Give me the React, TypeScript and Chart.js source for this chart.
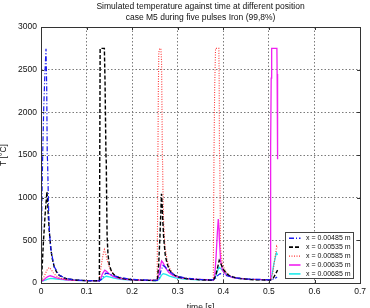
import { useEffect, useRef } from 'react';
import { Chart, registerables } from 'chart.js';

Chart.register(...registerables);

const titleLines = [
  'Simulated temperature against time at different position',
  'case M5 during five pulses Iron (99,8%)',
];
const xLabel = 'time [s]';
const yLabel = 'T [°C]';
const timeTicks = [0, 0.1, 0.2, 0.3, 0.4, 0.5, 0.6, 0.7];
const tempTicks = [0, 500, 1000, 1500, 2000, 2500, 3000];

const seriesNames = ['x = 0.00485 m', 'x = 0.00535 m', 'x = 0.00585 m', 'x = 0.00635 m', 'x = 0.00685 m'];

// x = 0.00485 m
const time485 = [
  0, 0.001, 0.002, 0.0037, 0.006, 0.0085, 0.011, 0.0125, 0.0137, 0.0145, 0.0155, 0.017, 0.019, 0.022, 0.029, 0.04, 0.054, 0.07, 0.1, 0.128,
  0.132, 0.137, 0.142, 0.147, 0.155, 0.165, 0.175, 0.19, 0.21, 0.235, 0.255,
  0.259, 0.263, 0.2675, 0.272, 0.279, 0.288, 0.3, 0.32, 0.35, 0.378,
  0.383, 0.388, 0.393, 0.4, 0.41, 0.425, 0.45, 0.48, 0.503,
  0.51, 0.515, 0.518,
];
const temp485 = [
  20, 500, 950, 1500, 2050, 2450, 2745, 2300, 1500, 1420, 1150, 800, 560, 380, 190, 92, 55, 38, 28, 26,
  40, 80, 115, 110, 95, 78, 65, 50, 40, 34, 31,
  60, 140, 205, 190, 150, 110, 78, 55, 42, 36,
  55, 90, 110, 100, 82, 62, 48, 42, 37,
  45, 60, 72,
];

// x = 0.00535 m
const time535 = [
  0, 0.001, 0.005, 0.009, 0.013, 0.0145, 0.016, 0.018, 0.0217, 0.025, 0.029, 0.034, 0.04, 0.054, 0.075, 0.1, 0.128,
  0.1285, 0.129, 0.1295, 0.1297, 0.139, 0.1405, 0.1425, 0.1432, 0.144, 0.145, 0.147, 0.15, 0.155, 0.162, 0.175, 0.2, 0.23, 0.255,
  0.258, 0.261, 0.2643, 0.2655, 0.267, 0.269, 0.2725, 0.2765, 0.282, 0.287, 0.295, 0.302, 0.32, 0.35, 0.378,
  0.383, 0.387, 0.391, 0.395, 0.4, 0.407, 0.415, 0.43, 0.46, 0.503,
  0.51, 0.515, 0.519,
];
const temp535 = [
  20, 30, 450, 800, 1068, 950, 790, 618, 390, 280, 190, 130, 90, 52, 35, 28, 25,
  800, 1600, 2400, 2750, 2750, 2350, 1500, 1420, 1000, 550, 330, 210, 130, 85, 55, 38, 31, 29,
  200, 550, 1045, 950, 750, 540, 330, 230, 150, 114, 85, 70, 50, 38, 32,
  80, 170, 266, 220, 160, 110, 80, 55, 40, 33,
  60, 110, 150,
];

// x = 0.00585 m
const time585 = [
  0, 0.004, 0.008, 0.013, 0.018, 0.022, 0.027, 0.033, 0.04, 0.05, 0.07, 0.1, 0.128,
  0.129, 0.132, 0.136, 0.139, 0.142, 0.146, 0.151, 0.158, 0.167, 0.18, 0.2, 0.23, 0.2548,
  0.2555, 0.2565, 0.2575, 0.2584, 0.2605, 0.263, 0.2645, 0.2655, 0.2662, 0.2668, 0.2675, 0.269, 0.272, 0.277, 0.283, 0.29, 0.3, 0.32, 0.35, 0.378,
  0.3785, 0.3795, 0.381, 0.3829, 0.3902, 0.3908, 0.3915, 0.3922, 0.393, 0.394, 0.398, 0.405, 0.415, 0.43, 0.46, 0.503,
  0.508, 0.512, 0.517, 0.519,
];
const temp585 = [
  20, 40, 90, 150, 181, 160, 120, 85, 60, 45, 33, 27, 25,
  80, 200, 330, 392, 340, 250, 170, 110, 75, 52, 40, 33, 30,
  600, 1500, 2300, 2700, 2750, 2740, 2600, 2000, 1500, 1400, 1100, 700, 420, 260, 160, 110, 75, 50, 38, 33,
  600, 1500, 2300, 2750, 2750, 2400, 1500, 1420, 900, 400, 220, 130, 85, 60, 42, 35,
  100, 250, 430, 410,
];

// x = 0.00635 m
const time635 = [
  0, 0.005, 0.01, 0.015, 0.02, 0.025, 0.032, 0.04, 0.055, 0.075, 0.1, 0.128,
  0.131, 0.135, 0.14, 0.144, 0.15, 0.158, 0.17, 0.19, 0.22, 0.255,
  0.258, 0.261, 0.2645, 0.268, 0.273, 0.28, 0.29, 0.305, 0.33, 0.378,
  0.381, 0.384, 0.387, 0.3889, 0.3905, 0.391, 0.394, 0.398, 0.407, 0.421, 0.45, 0.503,
  0.5035, 0.504, 0.505, 0.506, 0.5175, 0.518, 0.5185, 0.519, 0.5195,
];
const temp635 = [
  20, 30, 55, 75, 85, 78, 62, 50, 38, 30, 27, 25,
  50, 110, 150, 135, 105, 78, 55, 40, 32, 30,
  80, 170, 258, 235, 180, 125, 85, 60, 45, 35,
  80, 300, 600, 750, 640, 540, 266, 150, 90, 63, 45, 36,
  800, 1600, 2400, 2750, 2750, 2450, 1700, 1550, 1450,
];

// x = 0.00685 m
const time685 = [
  0, 0.008, 0.015, 0.022, 0.03, 0.04, 0.06, 0.09, 0.128,
  0.133, 0.138, 0.143, 0.15, 0.16, 0.175, 0.2, 0.255,
  0.26, 0.264, 0.268, 0.274, 0.282, 0.295, 0.315, 0.345, 0.378,
  0.382, 0.387, 0.391, 0.396, 0.403, 0.412, 0.425, 0.445, 0.475, 0.503,
  0.507, 0.511, 0.5165, 0.519,
];
const temp685 = [
  20, 30, 45, 55, 50, 42, 33, 27, 25,
  40, 65, 79, 72, 57, 44, 34, 29,
  50, 90, 110, 100, 80, 60, 45, 37, 33,
  60, 140, 185, 160, 120, 85, 62, 48, 40, 36,
  100, 230, 355, 330,
];

const seriesTimes = [time485, time535, time585, time635, time685];
const seriesTemps = [temp485, temp535, temp585, temp635, temp685];
const seriesColors = ['#1818f0', '#000000', '#ff3535', '#f020f0', '#20eaea'];
const seriesDashes = [[5, 2, 1, 2], [4, 2], [1, 1.5], [], []];
const seriesWidths = [1.2, 1.4, 1.1, 1.3, 1.3];

const FONT = 'Liberation Sans, Arial, Helvetica, sans-serif';

const axesPlugin = {
  id: 'axesFrame',
  afterDatasetsDraw(chart: any) {
    const { ctx, chartArea } = chart;
    const { left, right, top, bottom } = chartArea;
    const xs = chart.scales.x;
    const ys = chart.scales.y;
    ctx.save();
    // box around the axes
    ctx.strokeStyle = '#333';
    ctx.lineWidth = 1;
    ctx.setLineDash([]);
    ctx.strokeRect(Math.round(left) + 0.5, Math.round(top) + 0.5, Math.round(right - left), Math.round(bottom - top));
    // inward tick marks on all four sides
    ctx.beginPath();
    timeTicks.forEach((v) => {
      const px = Math.round(xs.getPixelForValue(v)) + 0.5;
      ctx.moveTo(px, bottom);
      ctx.lineTo(px, bottom - 3);
      ctx.moveTo(px, top);
      ctx.lineTo(px, top + 3);
    });
    tempTicks.forEach((v) => {
      const py = Math.round(ys.getPixelForValue(v)) + 0.5;
      ctx.moveTo(left, py);
      ctx.lineTo(left + 3, py);
      ctx.moveTo(right, py);
      ctx.lineTo(right - 3, py);
    });
    ctx.stroke();

    // legend box in the lower right corner
    const boxW = 68;
    const boxH = 46;
    const bx = Math.round(right - 7 - boxW) + 0.5;
    const by = Math.round(bottom - 5 - boxH) + 0.5;
    ctx.fillStyle = '#fff';
    ctx.fillRect(bx, by, boxW, boxH);
    ctx.strokeStyle = '#444';
    ctx.strokeRect(bx, by, boxW, boxH);
    ctx.font = `7px ${FONT}`;
    ctx.textBaseline = 'middle';
    ctx.textAlign = 'left';
    seriesNames.forEach((name, i) => {
      const ry = by + 5.8 + i * 8.9;
      ctx.beginPath();
      ctx.strokeStyle = seriesColors[i];
      ctx.lineWidth = seriesWidths[i] + 0.3;
      ctx.setLineDash(seriesDashes[i]);
      ctx.moveTo(bx + 3.5, ry);
      ctx.lineTo(bx + 15, ry);
      ctx.stroke();
      ctx.setLineDash([]);
      ctx.fillStyle = '#111';
      ctx.fillText(name, bx + 20.5, ry);
    });
    ctx.restore();
  },
  afterDraw(chart: any) {
    const { ctx, chartArea } = chart;
    const cx = (chartArea.left + chartArea.right) / 2;
    ctx.save();
    ctx.fillStyle = '#111';
    ctx.font = `8.5px ${FONT}`;
    ctx.textAlign = 'center';
    ctx.textBaseline = 'middle';
    titleLines.forEach((line, i) => ctx.fillText(line, cx, 7 + i * 11));
    ctx.restore();
  },
};

export default function App() {
  const canvasRef = useRef<HTMLCanvasElement | null>(null);

  useEffect(() => {
    const canvas = canvasRef.current;
    if (!canvas) return;

    const datasets = seriesNames.map((name, i) => ({
      label: name,
      data: seriesTimes[i].map((t, k) => ({ x: t, y: seriesTemps[i][k] })),
      borderColor: seriesColors[i],
      backgroundColor: seriesColors[i],
      borderWidth: seriesWidths[i],
      borderDash: seriesDashes[i],
      pointRadius: 0,
      tension: 0,
      fill: false,
    }));

    const tickFont = { family: FONT, size: 8.5 };

    const chart = new Chart(canvas, {
      type: 'line',
      data: { datasets },
      options: {
        animation: false,
        responsive: false,
        devicePixelRatio: 1,
        events: [],
        layout: { padding: { top: 27, right: 7, left: 0, bottom: 0 } },
        plugins: {
          legend: { display: false },
          title: { display: false },
          tooltip: { enabled: false },
        },
        scales: {
          x: {
            type: 'linear',
            min: 0,
            max: 0.7,
            afterBuildTicks: (s: any) => {
              s.ticks = timeTicks.map((v) => ({ value: v }));
            },
            afterFit: (s: any) => {
              s.height = 25;
            },
            ticks: {
              font: tickFont,
              color: '#111',
              padding: 4,
              maxRotation: 0,
              autoSkip: false,
              callback: (v: any) => String(v),
            },
            grid: { color: '#7a7a7a', lineWidth: 1, drawTicks: false },
            border: { display: false, dash: [1.5, 2] },
            title: {
              display: true,
              text: xLabel,
              font: { family: FONT, size: 8.5 },
              color: '#111',
              padding: { top: 0, bottom: -5 },
            },
          },
          y: {
            type: 'linear',
            min: 0,
            max: 3000,
            afterBuildTicks: (s: any) => {
              s.ticks = tempTicks.map((v) => ({ value: v }));
            },
            afterFit: (s: any) => {
              s.width = 41;
            },
            ticks: {
              font: tickFont,
              color: '#111',
              padding: 4,
              autoSkip: false,
              callback: (v: any) => String(v),
            },
            grid: { color: '#7a7a7a', lineWidth: 1, drawTicks: false },
            border: { display: false, dash: [1.5, 2] },
            title: {
              display: true,
              text: yLabel,
              font: { family: FONT, size: 8.5 },
              color: '#111',
              padding: { top: -1, bottom: 0 },
            },
          },
        },
      },
      plugins: [axesPlugin],
    });

    return () => chart.destroy();
  }, []);

  return (
    <div style={{ position: 'absolute', left: 0, top: 0, width: 370, height: 308, background: '#fff' }}>
      <canvas ref={canvasRef} width={370} height={308} style={{ width: 370, height: 308, display: 'block' }} />
    </div>
  );
}
